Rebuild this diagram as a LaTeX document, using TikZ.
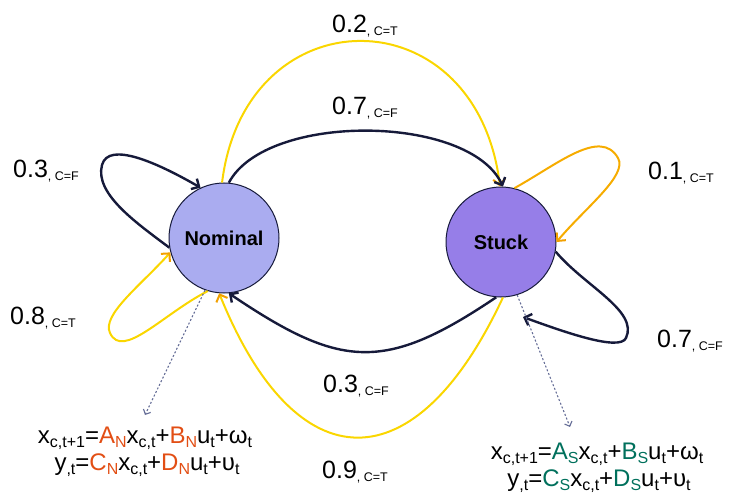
\documentclass[tikz,border=0pt]{standalone}
\usepackage{fontspec}
\setmainfont{Liberation Sans}
\usetikzlibrary{arrows.meta}
\definecolor{navy}{RGB}{22,26,58}
\definecolor{gold}{RGB}{250,214,0}
\definecolor{amber}{RGB}{246,172,0}
\definecolor{tipor}{RGB}{242,160,0}
\definecolor{nomfill}{RGB}{170,172,240}
\definecolor{stuckfill}{RGB}{150,126,232}
\definecolor{nomred}{RGB}{226,78,20}
\definecolor{stuckgreen}{RGB}{0,112,92}
\definecolor{pointgray}{RGB}{100,108,150}
\newcommand\prob[2]{{\fontsize{25}{25}\selectfont #1}\raisebox{-3pt}{\fontsize{12.5}{12.5}\selectfont , #2}}
\newcommand\lowsub[1]{\raisebox{-4pt}{\fontsize{16}{16}\selectfont #1}}
\begin{document}
\begin{tikzpicture}[x=1pt,y=1pt]
	\tikzset{
		state/.style={circle,draw=navy,line width=1pt,minimum size=110pt,inner sep=0pt,font=\fontsize{20}{20}\selectfont\bfseries},
		blackarc/.style={draw=navy,line width=2.4pt,-{Straight Barb[length=6pt,width=12pt]}},
		yellowarc/.style={draw=gold,line width=2pt,-{Straight Barb[length=6pt,width=12pt,color=tipor]}},
		amberarc/.style={draw=amber,line width=2pt,-{Straight Barb[length=6pt,width=12pt,color=tipor]}},
		pointer/.style={draw=pointgray,line width=1.1pt,dash pattern=on 2pt off 2pt,-{Straight Barb[length=4pt,width=8pt]}},
		prob/.style={anchor=base west,inner sep=0pt},
		eq/.style={anchor=base,inner sep=0pt,font=\fontsize{24}{24}\selectfont}
	}
	\useasboundingbox(0,0)rectangle(730,-494);
	\node[state,fill=nomfill](nominal)at(224,-238){Nominal};
	\node[state,fill=stuckfill](stuck)at(501,-242){Stuck};
	\draw[yellowarc](nominal.92)..controls +(83:190) and +(97:195)..(stuck.91);
	\draw[blackarc](nominal.85)..controls +(62:80) and +(115:80)..(stuck.88);
	\draw[amberarc](stuck.76)..controls +(29:50) and +(120:35)..(618,-158)..controls +(-60:20) and +(50:45)..(stuck.0);
	\coordinate(sloop)at(523,-317);
	\draw[blackarc](stuck.-10)..controls +(-50:45) and +(65:30)..(626,-338)..controls +(-115:15) and +(-20:45)..(sloop);
	\draw[blackarc](stuck.-95)..controls +(-146:135) and +(-34:135)..(nominal.-85);
	\draw[yellowarc](stuck.-88)..controls +(245:207) and +(-68:206)..(nominal.-95);
	\draw[blackarc](nominal.190)..controls +(143:40) and +(-105:30)..(102,-165)..controls +(75:25) and +(150:50)..(nominal.115);
	\draw[yellowarc](nominal.-107)..controls +(207:50) and +(-65:30)..(110,-333)..controls +(115:20) and +(228:45)..(nominal.195);
	\node[prob](ptop)at(332,-33){\prob{0.2}{C=T}};
	\node[prob](pup)at(332,-115){\prob{0.7}{C=F}};
	\node[prob](pnl)at(13,-178){\prob{0.3}{C=F}};
	\node[prob](pnt)at(10,-324){\prob{0.8}{C=T}};
	\node[prob](pst)at(648,-180){\prob{0.1}{C=T}};
	\node[prob](psf)at(657,-347){\prob{0.7}{C=F}};
	\node[prob](pdown)at(323,-392){\prob{0.3}{C=F}};
	\node[prob](pbot)at(322,-478){\prob{0.9}{C=T}};
	\node[eq](nomeqa)at(145,-443){x\lowsub{c,t+1}=\textcolor{nomred}{A\lowsub{N}}x\lowsub{c,t}+\textcolor{nomred}{B\lowsub{N}}u\lowsub{t}+ω\lowsub{t}};
	\node[eq](nomeqb)at(147,-470){y\lowsub{,t}=\textcolor{nomred}{C\lowsub{N}}x\lowsub{c,t}+\textcolor{nomred}{D\lowsub{N}}u\lowsub{t}+υ\lowsub{t}};
	\node[eq](stuckeqa)at(597,-459){x\lowsub{c,t+1}=\textcolor{stuckgreen}{A\lowsub{S}}x\lowsub{c,t}+\textcolor{stuckgreen}{B\lowsub{S}}u\lowsub{t}+ω\lowsub{t}};
	\node[eq](stuckeqb)at(599,-486){y\lowsub{,t}=\textcolor{stuckgreen}{C\lowsub{S}}x\lowsub{c,t}+\textcolor{stuckgreen}{D\lowsub{S}}u\lowsub{t}+υ\lowsub{t}};
	\coordinate(nomtip)at(145,-415);
	\coordinate(stucktip)at(570,-427);
	\draw[pointer](nominal.-110)--(nomtip);
	\draw[pointer](stuck.-73)--(stucktip);
\end{tikzpicture}
\end{document}
